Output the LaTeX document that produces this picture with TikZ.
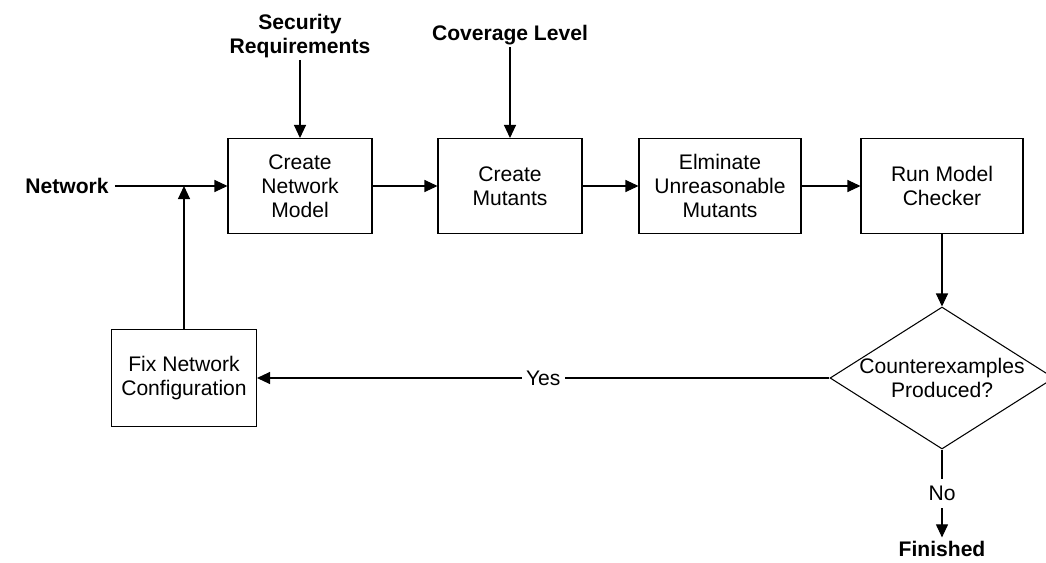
\documentclass[tikz,border=0pt]{standalone}
\usepackage{fontspec}
\setmainfont{Liberation Sans}
\usetikzlibrary{shapes.geometric,arrows.meta}
\begin{document}
\begin{tikzpicture}[x=0.02cm,y=-0.02cm,
   font=\fontsize{12pt}{13.6pt}\selectfont,
   box/.style={draw,line width=.6pt,align=center,minimum width=2.88cm,minimum height=1.9cm,inner sep=0pt},
   widebox/.style={box,minimum width=3.24cm},
   decision/.style={draw,line width=.6pt,diamond,minimum width=4.48cm,minimum height=2.84cm,inner sep=0pt},
   arr/.style={line width=.6pt,-{Triangle[length=2.6mm,width=2.4mm]}},
   lbl/.style={font=\fontsize{12pt}{13.6pt}\selectfont\bfseries,align=center}]
  \useasboundingbox (0,0) rectangle (1046,562);
   \node[lbl] (net) at (67,186) {Network};
   \node[lbl,inner sep=1pt] (sec) at (300,36) {Security\\Requirements};
   \node[lbl,inner sep=1pt] (cov) at (510,35) {Coverage Level};
     \node[box] (cnm) at (300,186) {Create\\Network\\Model};
     \node[box] (cm) at (510,186) {Create\\Mutants};
     \node[widebox] (elim) at (720,186) {Elminate\\Unreasonable\\Mutants};
     \node[widebox] (run) at (942,186) {Run Model\\Checker};
   \node[decision] (dec) at (942,378) {};
   \node[align=center] (dectext) at (dec.center) {Counterexamples\\Produced?};
   \node[box,minimum width=2.9cm,minimum height=1.94cm] (fix) at (184,378) {Fix Network\\Configuration};
   \node[lbl,inner sep=2pt] (fin) at (942,549) {Finished};
   \coordinate (join) at (fix.north |- net);
     \draw[arr] (net) -- (cnm);
     \draw[arr] (sec) -- (cnm);
     \draw[arr] (cov) -- (cm);
     \draw[arr] (cnm) -- (cm);
     \draw[arr] (cm) -- (elim);
     \draw[arr] (elim) -- (run);
     \draw[arr] (run) -- (dec);
     \draw[arr] (dec) -- node[fill=white,inner sep=2.5pt] {Yes} (fix);
     \draw[arr] (dec) -- node[fill=white,inner sep=4pt] {No} (fin);
     \draw[arr] (fix) -- (join);
  \end{tikzpicture}
\end{document}
